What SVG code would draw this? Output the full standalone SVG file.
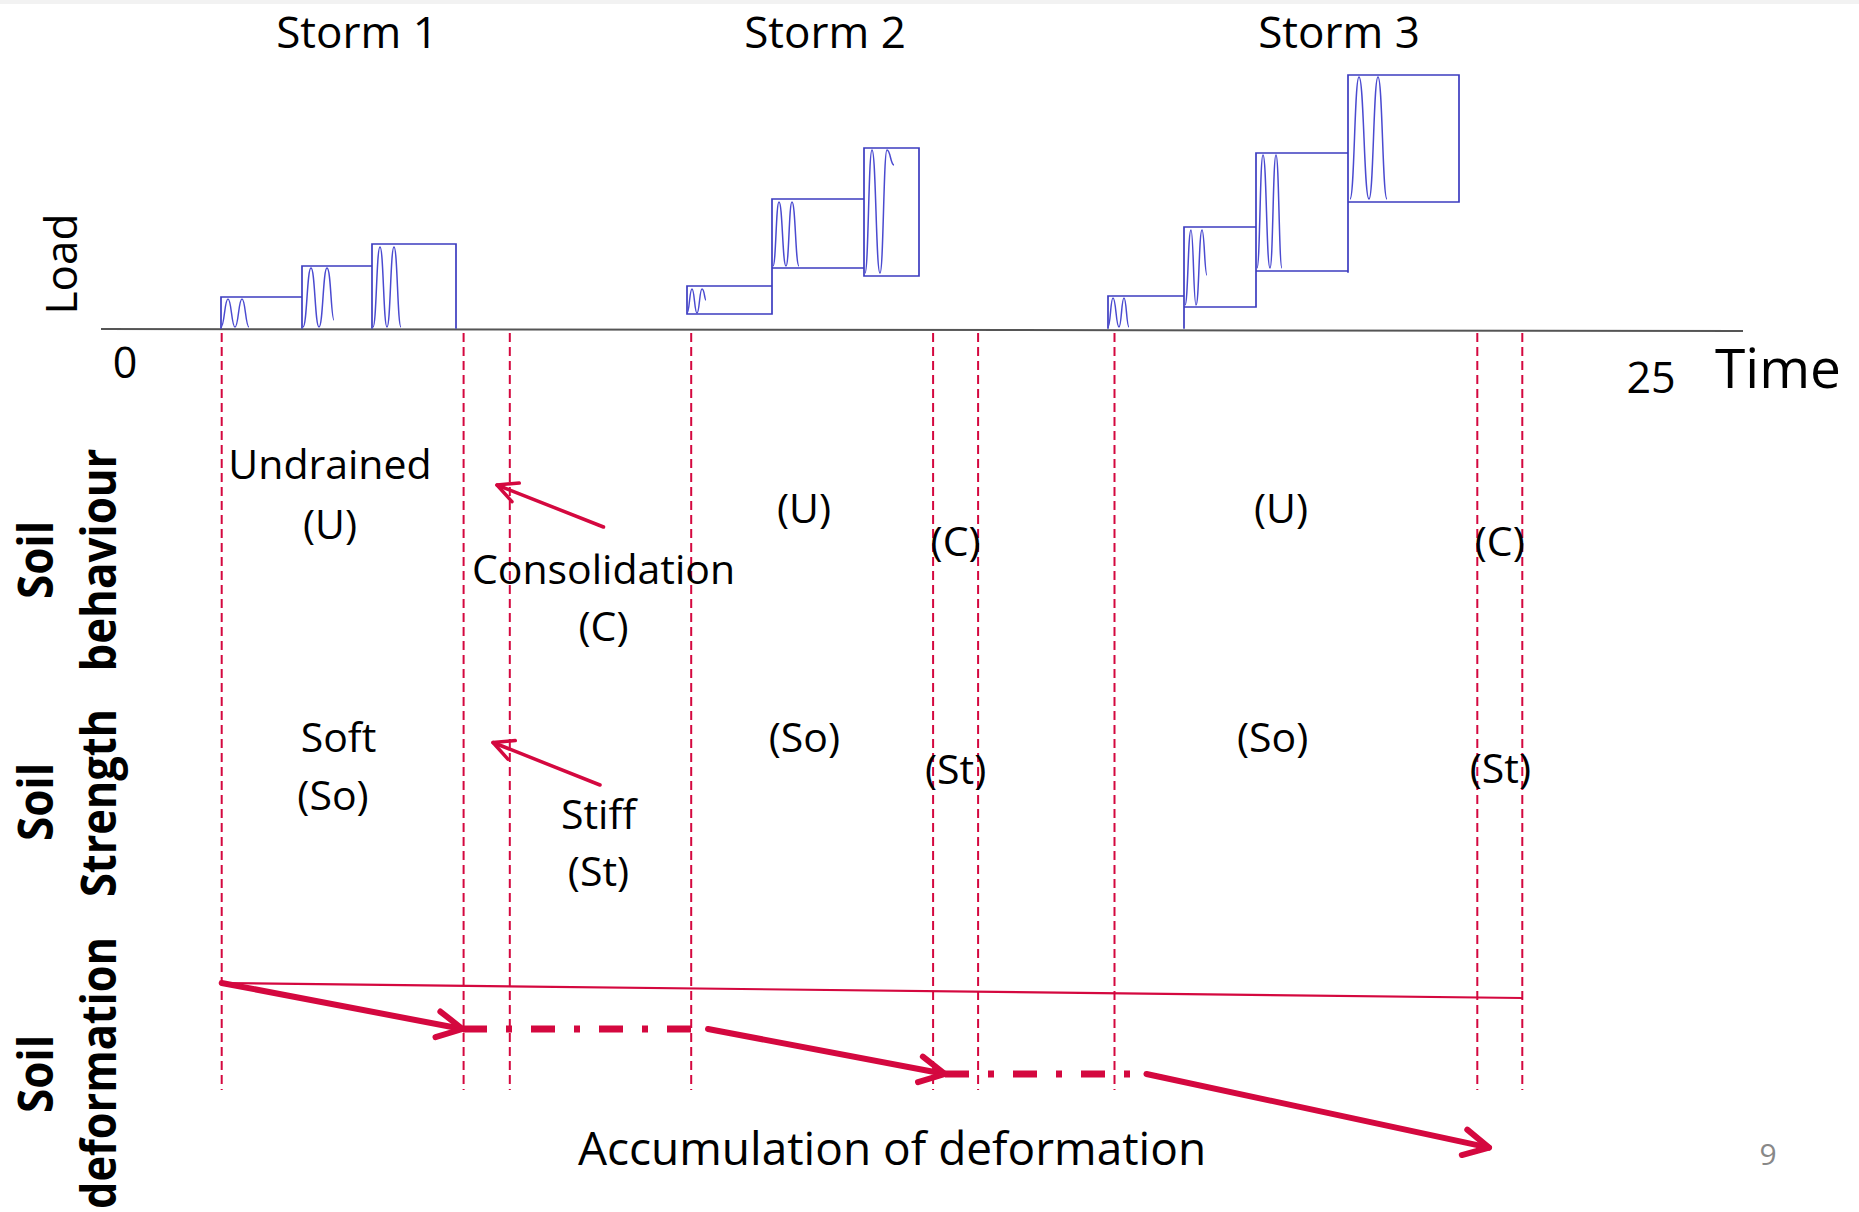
<svg xmlns="http://www.w3.org/2000/svg" width="1859" height="1212" viewBox="0 0 1859 1212">
<style>
.t{font-family:"Open Sans","Liberation Sans",sans-serif;fill:#000;text-anchor:middle}
.s41{font-size:41px}
.sb{font-family:"Open Sans","Liberation Sans",sans-serif;font-weight:bold;font-size:48px;text-anchor:middle;fill:#000}
.box{fill:none;stroke:#3c3cc0;stroke-width:1.7;stroke-linecap:square}
.wave{fill:none;stroke:#4a4ad0;stroke-width:1.5}
.vd{stroke:#d4083f;stroke-width:2;stroke-dasharray:9 5;fill:none}
.thick{stroke:#d4083f;stroke-width:6;stroke-linecap:round;fill:none}
.dd{stroke:#d4083f;stroke-width:7;stroke-dasharray:24 19 6 19;fill:none}
.thin{stroke:#d4083f;stroke-width:3.5;stroke-linecap:round;fill:none}
</style>
<defs>
<marker id="headL" markerUnits="userSpaceOnUse" viewBox="-30 -20 40 40" refX="0" refY="0" markerWidth="40" markerHeight="40" orient="auto" overflow="visible"><path d="M-25,-13 L0,0 L-25,13" fill="none" stroke="#d4083f" stroke-width="6" stroke-linecap="round" stroke-linejoin="round"/></marker>
<marker id="headS" markerUnits="userSpaceOnUse" viewBox="-30 -20 40 40" refX="0" refY="0" markerWidth="40" markerHeight="40" orient="auto" overflow="visible"><path d="M-20,-10 L0,0 L-20,10" fill="none" stroke="#d4083f" stroke-width="3.5" stroke-linecap="round" stroke-linejoin="round"/></marker>
</defs>
<rect width="1859" height="1212" fill="#fff"/>
<rect width="1859" height="4" fill="#f2f2f2"/>

<g id="storm-labels">
<text class="t" x="357" y="48" font-size="44">Storm 1</text>
<text class="t" x="825" y="48" font-size="44">Storm 2</text>
<text class="t" x="1339" y="48" font-size="44">Storm 3</text>
</g>

<g id="load-axis">
<line x1="101" y1="329" x2="1743" y2="331" stroke="#555" stroke-width="2"/>
<text class="t" transform="translate(77,264) rotate(-90)" font-size="44">Load</text>
<text class="t" x="125" y="378" font-size="43">0</text>
<text class="t" x="1651" y="393" font-size="43">25</text>
<text class="t" x="1715" y="388" font-size="55" style="text-anchor:start">Time</text>
</g>

<g id="storm1-load">
<path class="box" d="M221,328 V297 H302 M302,328 V266 H372 M372,328 V244 H456 V328"/>
<path class="wave" d="M221,327 C224.5,327 224.5,299 228,299 C231.5,299 231.5,327 235,327 C238.5,327 238.5,299 242,299 C245.5,299 245.5,327 249,327"/>
<path class="wave" d="M303,327 C307,327 307,268 311,268 C315,268 315,327 319,327 C323,327 323,268 327,268 C331,268 331,320 334,320"/>
<path class="wave" d="M373,327 C376.5,327 376.5,247 380,247 C383.5,247 383.5,327 387,327 C390.5,327 390.5,247 394,247 C397.5,247 397.5,327 401,327"/>
</g>

<g id="storm2-load">
<path class="box" d="M687,314 V286 H772 M687,314 H772 M772,314 V199 H864 M772,268 H864 M864,276 V148 H919 V276 H864"/>
<path class="wave" d="M687,313 C689.5,313 689.5,289 692,289 C694.5,289 694.5,313 697,313 C699.5,313 699.5,289 702,289 C704.5,289 704.5,300 706,300"/>
<path class="wave" d="M773,266 C776,266 776,202 779,202 C782.5,202 782.5,266 786,266 C789,266 789,202 792,202 C795.5,202 795.5,266 799,266"/>
<path class="wave" d="M865,273 C868.5,273 868.5,150 872,150 C876,150 876,273 880,273 C883.5,273 883.5,150 887,150 C890.5,150 890.5,165 894,165"/>
</g>

<g id="storm3-load">
<path class="box" d="M1108,328 V296 H1184 M1184,328 V227 H1256 M1184,307 H1256 M1256,307 V153 H1348 M1256,271 H1348 M1348,272 V75 H1459 V202 H1348"/>
<path class="wave" d="M1108,327 C1110.5,327 1110.5,298 1113,298 C1116,298 1116,327 1119,327 C1121.5,327 1121.5,298 1124,298 C1126.5,298 1126.5,327 1129,327"/>
<path class="wave" d="M1185,305 C1188,305 1188,230 1191,230 C1193.5,230 1193.5,305 1196,305 C1199,305 1199,230 1202,230 C1204.5,230 1204.5,275 1207,275"/>
<path class="wave" d="M1257,268 C1260,268 1260,155 1263,155 C1266.5,155 1266.5,268 1270,268 C1273,268 1273,155 1276,155 C1279,155 1279,268 1282,268"/>
<path class="wave" d="M1350,199 C1354.5,199 1354.5,77 1359,77 C1364,77 1364,199 1369,199 C1373.5,199 1373.5,77 1378,77 C1382.5,77 1382.5,199 1387,199"/>
</g>

<g id="phase-dividers">
<line class="vd" x1="221.7" y1="333" x2="221.7" y2="1090"/>
<line class="vd" x1="463.6" y1="333" x2="463.6" y2="1090"/>
<line class="vd" x1="509.8" y1="333" x2="509.8" y2="1090"/>
<line class="vd" x1="691.2" y1="333" x2="691.2" y2="1090"/>
<line class="vd" x1="933.1" y1="333" x2="933.1" y2="1090"/>
<line class="vd" x1="978.1" y1="333" x2="978.1" y2="1090"/>
<line class="vd" x1="1114.5" y1="333" x2="1114.5" y2="1090"/>
<line class="vd" x1="1477.3" y1="333" x2="1477.3" y2="1090"/>
<line class="vd" x1="1522.3" y1="333" x2="1522.3" y2="1090"/>
</g>

<g id="row-labels">
<text class="sb" transform="translate(53,560) rotate(-90)" textLength="78" lengthAdjust="spacingAndGlyphs">Soil</text>
<text class="sb" transform="translate(116,560) rotate(-90)" textLength="223" lengthAdjust="spacingAndGlyphs">behaviour</text>
<text class="sb" transform="translate(53,802) rotate(-90)" textLength="78" lengthAdjust="spacingAndGlyphs">Soil</text>
<text class="sb" transform="translate(116,803) rotate(-90)" textLength="188" lengthAdjust="spacingAndGlyphs">Strength</text>
<text class="sb" transform="translate(53,1074) rotate(-90)" textLength="78" lengthAdjust="spacingAndGlyphs">Soil</text>
<text class="sb" transform="translate(116,1073) rotate(-90)" textLength="272" lengthAdjust="spacingAndGlyphs">deformation</text>
</g>

<g id="behaviour-labels">
<text class="t s41" x="330" y="479">Undrained</text>
<text class="t s41" x="330" y="539">(U)</text>
<text class="t s41" x="603.5" y="584">Consolidation</text>
<text class="t s41" x="603.5" y="641">(C)</text>
<text class="t s41" x="804" y="523">(U)</text>
<text class="t s41" x="955.6" y="556">(C)</text>
<text class="t s41" x="1281" y="523">(U)</text>
<text class="t s41" x="1499.8" y="556">(C)</text>
</g>

<g id="strength-labels">
<text class="t s41" x="338.5" y="752">Soft</text>
<text class="t s41" x="333" y="810">(So)</text>
<text class="t s41" x="598.5" y="829">Stiff</text>
<text class="t s41" x="598.5" y="886">(St)</text>
<text class="t s41" x="804.4" y="752">(So)</text>
<text class="t s41" x="955.6" y="784">(St)</text>
<text class="t s41" x="1272.7" y="752">(So)</text>
<text class="t s41" x="1500.4" y="783">(St)</text>
</g>

<g id="deformation-label">
<text class="t" x="892" y="1165" font-size="46">Accumulation of deformation</text>
</g>

<g id="page-number">
<text class="t" x="1768" y="1165" font-size="30" style="fill:#888">9</text>
</g>

<g id="connectors">
<line class="thin" x1="603.5" y1="527" x2="497" y2="485" marker-end="url(#headS)"/>
<line class="thin" x1="600" y1="785" x2="493" y2="742.5" marker-end="url(#headS)"/>
<line x1="221.7" y1="983" x2="1522.3" y2="998" stroke="#d4083f" stroke-width="2.2"/>
<line class="thick" x1="221.7" y1="983" x2="462.5" y2="1029" marker-end="url(#headL)"/>
<line class="dd" x1="463" y1="1029" x2="691" y2="1029"/>
<line class="thick" x1="708" y1="1029" x2="945" y2="1074" marker-end="url(#headL)"/>
<line class="dd" x1="945" y1="1074" x2="1140" y2="1074"/>
<line class="thick" x1="1146.5" y1="1074" x2="1489" y2="1147.6" marker-end="url(#headL)"/>
</g>
</svg>
